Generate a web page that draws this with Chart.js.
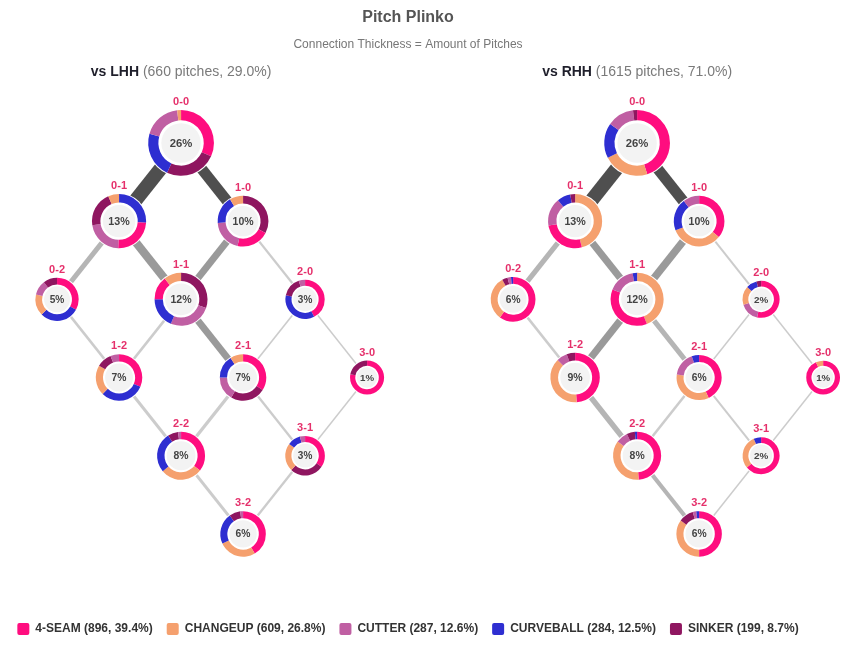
<!DOCTYPE html>
<html>
<head>
<meta charset="utf-8">
<title>Pitch Plinko</title>
<script src="https://cdn.jsdelivr.net/npm/chart.js@4.4.1/dist/chart.umd.min.js"></script>
<style>
  html, body { margin: 0; padding: 0; background: #fff; }
  #wrap { width: 850px; height: 649px; position: relative; }
</style>
</head>
<body>
<div id="wrap"><canvas id="plinko"></canvas></div>
<script>
// Counts are "balls-strikes"
const counts = ['0-0', '0-1', '1-0', '0-2', '1-1', '2-0', '1-2', '2-1', '3-0', '2-2', '3-1', '3-2'];

const pitchNames = ['4-SEAM', 'CHANGEUP', 'CUTTER', 'CURVEBALL', 'SINKER'];
const pitchTotals = [896, 609, 287, 284, 199];
const pitchColors = ['#ff0d7f', '#f5a06e', '#c05fa3', '#2e2ed1', '#8f1660'];

// pitches thrown in each count
const lhhNodePitches = [170, 85, 66, 32, 78, 19, 45, 45, 7, 52, 20, 41];
const rhhNodePitches = [415, 207, 160, 93, 192, 32, 144, 96, 16, 128, 32, 100];

// pitch mix per count (% of that count)
const lhhFourSeam  = [31.7, 24.5, 20.8, 33, 14.4, 42.4, 31.5, 34, 78, 35.5, 34.4, 41.4];
const lhhChangeup  = [1.9, 6.5, 8.6, 16, 10.6, 0, 21, 9, 0, 28.3, 23, 26.7];
const lhhCutter    = [18.6, 22, 20.4, 11, 26, 5.3, 6, 16.5, 0, 2, 4.2, 2];
const lhhCurveball = [22.5, 26, 17.5, 29.6, 18.7, 35.9, 31, 16, 0, 27.2, 10.6, 22];
const lhhSinker    = [25.3, 21, 32.7, 10.4, 30.3, 16.4, 10.5, 24.5, 22, 7, 27.8, 7.9];

const rhhFourSeam  = [45, 26.4, 35.8, 60, 37, 53.5, 49, 43, 93, 49, 64, 50];
const rhhChangeup  = [22.5, 46, 33.3, 32, 44, 16.2, 38.5, 34.2, 7, 36, 29.5, 35];
const rhhCutter    = [13.3, 16.7, 10.3, 2.5, 16.3, 16.8, 7, 17.5, 0, 8, 0, 2.5];
const rhhCurveball = [17.2, 8, 20.6, 1.5, 2.7, 9.5, 0, 5.3, 0, 1.5, 6.5, 2];
const rhhSinker    = [2, 2.9, 0, 4, 0, 4, 5.5, 0, 0, 5.5, 0, 10.5];

// connections between counts (pitches that moved along each one)
const edgeFrom = ['0-0', '0-0', '0-1', '0-1', '1-0', '1-0', '0-2', '1-1', '1-1', '2-0', '2-0', '1-2', '2-1', '2-1', '3-0', '2-2', '3-1'];
const edgeTo   = ['0-1', '1-0', '0-2', '1-1', '1-1', '2-0', '1-2', '1-2', '2-1', '2-1', '3-0', '2-2', '2-2', '3-1', '3-1', '3-2', '3-2'];
const lhhEdgePitches = [85, 66, 30, 50, 42, 14, 16, 16, 42, 10, 9, 18, 20, 14, 7, 18, 14];
const rhhEdgePitches = [207, 160, 75, 105, 110, 30, 38, 105, 75, 20, 18, 80, 38, 30, 15, 62, 22];

const grandTotal = pitchTotals.reduce((a, b) => a + b, 0);
const RIGHT_PANEL_OFFSET = 7.355;

const panels = [
    { side: 'LHH', offset: 0, nodes: lhhNodePitches, edges: lhhEdgePitches,
      mix: [lhhFourSeam, lhhChangeup, lhhCutter, lhhCurveball, lhhSinker] },
    { side: 'RHH', offset: RIGHT_PANEL_OFFSET, nodes: rhhNodePitches, edges: rhhEdgePitches,
      mix: [rhhFourSeam, rhhChangeup, rhhCutter, rhhCurveball, rhhSinker] }
];
panels.forEach(p => { p.total = p.nodes.reduce((a, b) => a + b, 0); });

const FONT = '"Liberation Sans", Arial, Helvetica, sans-serif';
Chart.defaults.font.family = FONT;

function nodePoint(count, offset) {
    const [balls, strikes] = count.split('-').map(Number);
    return { x: offset + balls - strikes, y: balls + strikes };
}

// heavier connections get a darker grey
function edgeColor(ratio) {
    if (ratio >= 0.7) return '#4f4f4f';
    if (ratio >= 0.4) return '#9a9a9a';
    if (ratio >= 0.25) return '#b5b5b5';
    return '#cccccc';
}

// one line dataset per connection
function edgeDatasets(panel) {
    const maxN = Math.max(...panel.edges);
    return edgeFrom.map((from, i) => {
        const ratio = panel.edges[i] / maxN;
        return {
            label: panel.side + ' ' + from + ' > ' + edgeTo[i],
            data: [nodePoint(from, panel.offset), nodePoint(edgeTo[i], panel.offset)],
            showLine: true,
            borderColor: edgeColor(ratio),
            borderWidth: Math.max(1.5, 14 * ratio),
            borderCapStyle: 'butt',
            pointRadius: 0,
            pointHoverRadius: 0
        };
    });
}

// doughnut per count, drawn on top of the connections
const plinkoPlugin = {
    id: 'plinko',
    afterDatasetsDraw(chart) {
        const { ctx, scales: { x, y } } = chart;
        ctx.save();
        panels.forEach(panel => {
            // panel heading
            const hx = x.getPixelForValue(panel.offset);
            const hy = y.getPixelForValue(-0.9);
            const boldPart = 'vs ' + panel.side;
            const share = (panel.total / grandTotal * 100).toFixed(1);
            const greyPart = ' (' + panel.total + ' pitches, ' + share + '%)';
            ctx.textBaseline = 'middle';
            ctx.textAlign = 'left';
            ctx.font = 'bold 14px ' + FONT;
            const w1 = ctx.measureText(boldPart).width;
            ctx.font = '14px ' + FONT;
            const w2 = ctx.measureText(greyPart).width;
            const startX = hx - (w1 + w2) / 2;
            ctx.font = 'bold 14px ' + FONT;
            ctx.fillStyle = '#1f1f2b';
            ctx.fillText(boldPart, startX, hy);
            ctx.font = '14px ' + FONT;
            ctx.fillStyle = '#7a7a7a';
            ctx.fillText(greyPart, startX + w1, hy);

            counts.forEach((count, i) => {
                const pt = nodePoint(count, panel.offset);
                const px = x.getPixelForValue(pt.x);
                const py = y.getPixelForValue(pt.y);
                const pct = panel.nodes[i] / panel.total * 100;
                const r = 13 + 3.92 * Math.sqrt(pct);
                const rIn = r * 0.69;

                ctx.beginPath();
                ctx.arc(px, py, r + 1, 0, Math.PI * 2);
                ctx.fillStyle = '#fff';
                ctx.fill();

                const slices = panel.mix
                    .map((series, k) => ({ v: series[i], color: pitchColors[k] }))
                    .filter(s => s.v > 0)
                    .sort((a, b) => b.v - a.v);
                const sum = slices.reduce((a, s) => a + s.v, 0);
                let a0 = -Math.PI / 2;
                slices.forEach(s => {
                    const a1 = a0 + s.v / sum * Math.PI * 2;
                    ctx.beginPath();
                    ctx.arc(px, py, r, a0, a1);
                    ctx.arc(px, py, rIn, a1, a0, true);
                    ctx.closePath();
                    ctx.fillStyle = s.color;
                    ctx.fill();
                    a0 = a1;
                });

                ctx.beginPath();
                ctx.arc(px, py, r * 0.6, 0, Math.PI * 2);
                ctx.fillStyle = '#f3f3f3';
                ctx.fill();

                ctx.textAlign = 'center';
                ctx.textBaseline = 'middle';
                ctx.fillStyle = '#444';
                ctx.font = 'bold ' + (8 + r * 0.1).toFixed(1) + 'px ' + FONT;
                ctx.fillText(Math.round(pct) + '%', px, py + 0.5);

                ctx.fillStyle = '#e5306b';
                ctx.font = 'bold 11px ' + FONT;
                ctx.fillText(count, px, py - r - 8);
            });
        });
        ctx.restore();
    }
};

new Chart(document.getElementById('plinko'), {
    type: 'scatter',
    data: {
        datasets: panels.flatMap(edgeDatasets)
    },
    options: {
        responsive: true,
        maintainAspectRatio: false,
        animation: false,
        events: [],
        layout: { padding: { left: 0, right: 34, top: 0, bottom: 4 } },
        scales: {
            x: { type: 'linear', min: -2.92, max: 10.24, display: false },
            y: { type: 'linear', min: -1.04, max: 5.96, reverse: true, display: false }
        },
        plugins: {
            title: {
                display: true,
                text: 'Pitch Plinko',
                color: '#555',
                font: { size: 16, weight: 'bold' },
                padding: { top: 8, bottom: 8 }
            },
            subtitle: {
                display: true,
                text: 'Connection Thickness = Amount of Pitches',
                color: '#777',
                font: { size: 12 },
                padding: { top: 2, bottom: 10 }
            },
            legend: {
                position: 'bottom',
                labels: {
                    boxWidth: 12,
                    boxHeight: 12,
                    padding: 14,
                    color: '#333',
                    font: { size: 12, weight: 'bold' },
                    useBorderRadius: true,
                    borderRadius: 2,
                    generateLabels: () => pitchNames.map((name, i) => ({
                        text: name + ' (' + pitchTotals[i] + ', ' + (pitchTotals[i] / grandTotal * 100).toFixed(1) + '%)',
                        fillStyle: pitchColors[i],
                        strokeStyle: pitchColors[i],
                        lineWidth: 0,
                        borderRadius: 2,
                        fontColor: '#333',
                        hidden: false,
                        datasetIndex: i
                    }))
                }
            },
            tooltip: { enabled: false }
        }
    },
    plugins: [plinkoPlugin]
});
</script>
</body>
</html>
